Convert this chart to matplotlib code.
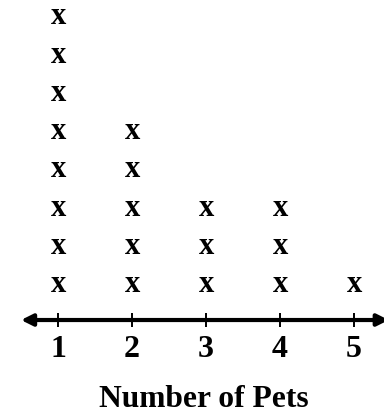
import matplotlib
matplotlib.use("Agg")
import matplotlib.pyplot as plt

# number of pets -> how many x marks stacked above it
pets = [1, 2, 3, 4, 5]
counts = [8, 5, 3, 3, 1]
title = "Number of Pets"

plt.rcParams['font.family'] = ['Liberation Serif', 'DejaVu Serif']

fig = plt.figure(figsize=(3.84, 4.14), dpi=100)
ax = fig.add_axes([0, 0, 1, 1])
ax.set_xlim(0.216, 5.405)
ax.set_ylim(-2.358, 8.452)
ax.axis('off')

AXIS_Y = 0.07

# number line with arrows at both ends
ax.annotate('', xy=(0.5, AXIS_Y), xytext=(5.47, AXIS_Y),
            arrowprops=dict(arrowstyle='<|-|>', lw=3.0, color='black',
                            mutation_scale=17, shrinkA=0, shrinkB=0))
ax.vlines(pets, AXIS_Y - 0.19, AXIS_Y + 0.19, color='black', lw=1.4)

for p in pets:
    ax.text(p, AXIS_Y - 0.94, str(p), ha='center', va='baseline',
            fontsize=23, fontweight='bold')

# stacks of x
for p, c in zip(pets, counts):
    for k in range(1, c + 1):
        ax.text(p, k - 0.18, 'x', ha='center', va='baseline',
                fontsize=22, fontweight='bold')

ax.text(2.97, AXIS_Y - 2.25, title, ha='center', va='baseline',
        fontsize=22.7, fontweight='bold')

fig.savefig('out.png', dpi=100)
